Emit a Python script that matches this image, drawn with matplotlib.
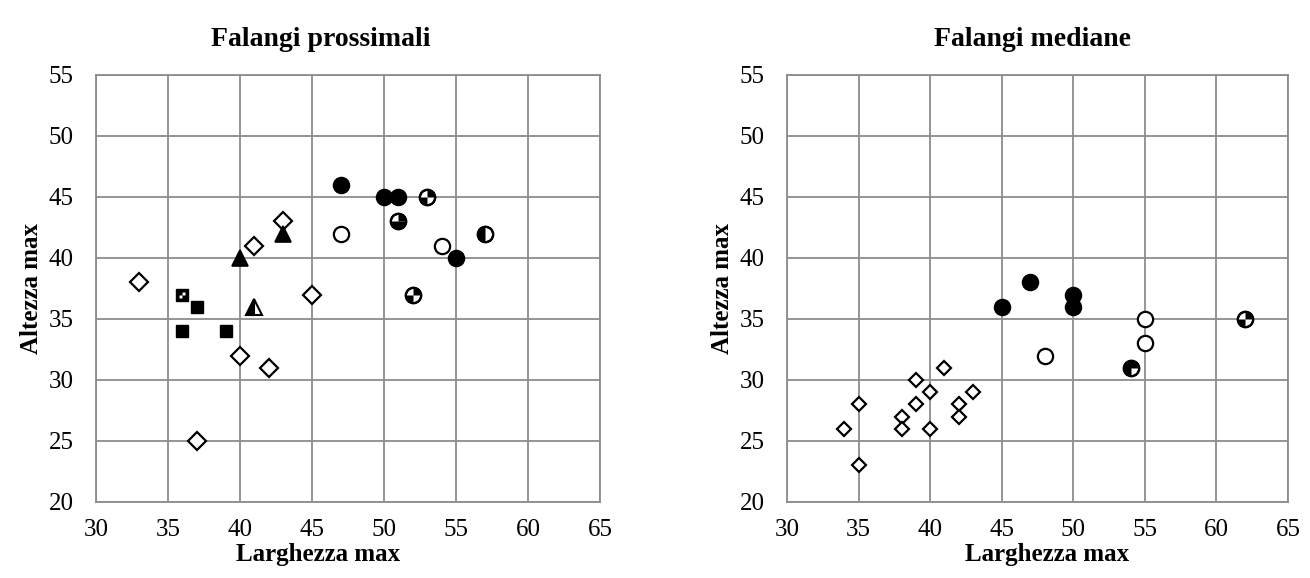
import matplotlib.pyplot as plt
import numpy as np
from matplotlib.path import Path

plt.rcParams['font.family'] = ['Liberation Serif', 'DejaVu Serif']

# --- Falangi prossimali ---
p_diam_x = [33, 41, 43, 45, 40, 42, 37]
p_diam_y = [38, 41, 43, 37, 32, 31, 25]
p_sq_x = [37, 36, 39]
p_sq_y = [36, 34, 34]
p_sqchk_x = [36]
p_sqchk_y = [37]
p_tri_x = [40, 43]
p_tri_y = [40, 42]
p_trihalf_x = [41]
p_trihalf_y = [36]
p_full_x = [47, 50, 51, 55]
p_full_y = [46, 45, 45, 40]
p_open_x = [47, 54]
p_open_y = [42, 41]
p_chk_x = [53, 52]
p_chk_y = [45, 37]
p_three_x = [51]
p_three_y = [43]
p_half_x = [57]
p_half_y = [42]

# --- Falangi mediane ---
m_diam_x = [34, 35, 35, 38, 38, 39, 39, 40, 40, 41, 42, 42, 43]
m_diam_y = [26, 28, 23, 27, 26, 30, 28, 29, 26, 31, 28, 27, 29]
m_full_x = [45, 47, 50, 50]
m_full_y = [36, 38, 37, 36]
m_open_x = [48, 55, 55]
m_open_y = [32, 35, 33]
m_chk_x = [62]
m_chk_y = [35]
m_three_x = [54]
m_three_y = [31]

titles = ['Falangi prossimali', 'Falangi mediane']
x_ticks = [30, 35, 40, 45, 50, 55, 60, 65]
y_ticks = [20, 25, 30, 35, 40, 45, 50, 55]


def wedge(a0, a1):
    t = np.linspace(np.radians(a0), np.radians(a1), 20)
    verts = [(0, 0)] + [(np.cos(a), np.sin(a)) for a in t] + [(0, 0)]
    # keep scale identical to a unit circle
    verts += [(1, 0), (-1, 0), (0, 1), (0, -1)]
    codes = [Path.MOVETO] + [Path.LINETO] * 20 + [Path.CLOSEPOLY]
    codes += [Path.MOVETO] * 4
    return Path(verts, codes)


def quarter_sq(sx, sy):
    verts = [(0, 0), (sx, 0), (sx, sy), (0, sy), (0, 0), (1, 1), (-1, -1)]
    codes = [Path.MOVETO, Path.LINETO, Path.LINETO, Path.LINETO, Path.CLOSEPOLY,
             Path.MOVETO, Path.MOVETO]
    return Path(verts, codes)


CS = 11  # circle size
EW = 1.6


def circles_quarters(ax, x, y, quads):
    ax.plot(x, y, 'o', ms=CS, mfc='white', mec='black', mew=EW, zorder=3)
    for a0, a1 in quads:
        ax.plot(x, y, ls='none', marker=wedge(a0, a1), ms=CS - 1.2,
                mfc='black', mec='none', zorder=4)
    ax.plot(x, y, 'o', ms=CS, mfc='none', mec='black', mew=EW, zorder=5)


fig = plt.figure(figsize=(13.1, 5.78), dpi=100)
ax1 = fig.add_axes([0.0733, 0.1315, 0.3847, 0.7388])
ax2 = fig.add_axes([0.6008, 0.1315, 0.3824, 0.7388])

# left
ax1.plot(p_diam_x, p_diam_y, 'D', ms=9, mfc='white', mec='black', mew=EW, zorder=3)
ax1.plot(p_sq_x, p_sq_y, 's', ms=9, mfc='black', mec='black', mew=1, zorder=3)
ax1.plot(p_sqchk_x, p_sqchk_y, 's', ms=9, mfc='black', mec='black', mew=1, zorder=3)
ax1.plot(p_sqchk_x, p_sqchk_y, ls='none', marker=quarter_sq(1, 1), ms=5,
         mfc='white', mec='none', zorder=4)
ax1.plot(p_sqchk_x, p_sqchk_y, ls='none', marker=quarter_sq(-1, -1), ms=5,
         mfc='white', mec='none', zorder=4)
ax1.plot(p_tri_x, p_tri_y, '^', ms=11, mfc='black', mec='black', mew=1.2, zorder=3)
ax1.plot(p_trihalf_x, p_trihalf_y, '^', ms=11, mfc='black', mec='black', mew=1.5,
         fillstyle='left', markerfacecoloralt='white', zorder=3)
ax1.plot(p_full_x, p_full_y, 'o', ms=CS, mfc='black', mec='black', mew=EW, zorder=3)
ax1.plot(p_open_x, p_open_y, 'o', ms=CS, mfc='white', mec='black', mew=EW, zorder=3)
circles_quarters(ax1, p_chk_x, p_chk_y, [(0, 90), (180, 270)])
circles_quarters(ax1, p_three_x, p_three_y, [(0, 90), (180, 360)])
circles_quarters(ax1, p_half_x, p_half_y, [(90, 270)])

# right
ax2.plot(m_diam_x, m_diam_y, 'D', ms=7.5, mfc='white', mec='black', mew=EW, zorder=3)
ax2.plot(m_full_x, m_full_y, 'o', ms=CS, mfc='black', mec='black', mew=EW, zorder=3)
ax2.plot(m_open_x, m_open_y, 'o', ms=CS, mfc='white', mec='black', mew=EW, zorder=3)
circles_quarters(ax2, m_chk_x, m_chk_y, [(0, 90), (180, 270)])
circles_quarters(ax2, m_three_x, m_three_y, [(0, 270)])

title_x = [321 / 1310, 1032 / 1310]
xlab_x = [0.44, 0.52]
for ax, t, tx, lx in zip([ax1, ax2], titles, title_x, xlab_x):
    ax.set_xlim(30, 65)
    ax.set_ylim(20, 55)
    ax.set_xticks(x_ticks)
    ax.set_yticks(y_ticks)
    ax.grid(True, color='#8c8c8c', lw=1.3)
    ax.set_axisbelow(True)
    for s in ax.spines.values():
        s.set_color('#8c8c8c')
        s.set_linewidth(1.3)
    ax.tick_params(length=0, labelsize=18)
    ax.tick_params(axis='x', pad=12)
    ax.tick_params(axis='y', pad=16)
    ax.set_xlabel('Larghezza max', fontsize=18, fontweight='bold', va='center')
    ax.xaxis.set_label_coords(lx, -0.122)
    ax.set_ylabel('Altezza max', fontsize=18, fontweight='bold', labelpad=4)
    fig.text(tx, 1 - 40 / 578, t, fontsize=20, fontweight='bold',
             ha='center', va='center')

fig.savefig('out.png', dpi=100)
